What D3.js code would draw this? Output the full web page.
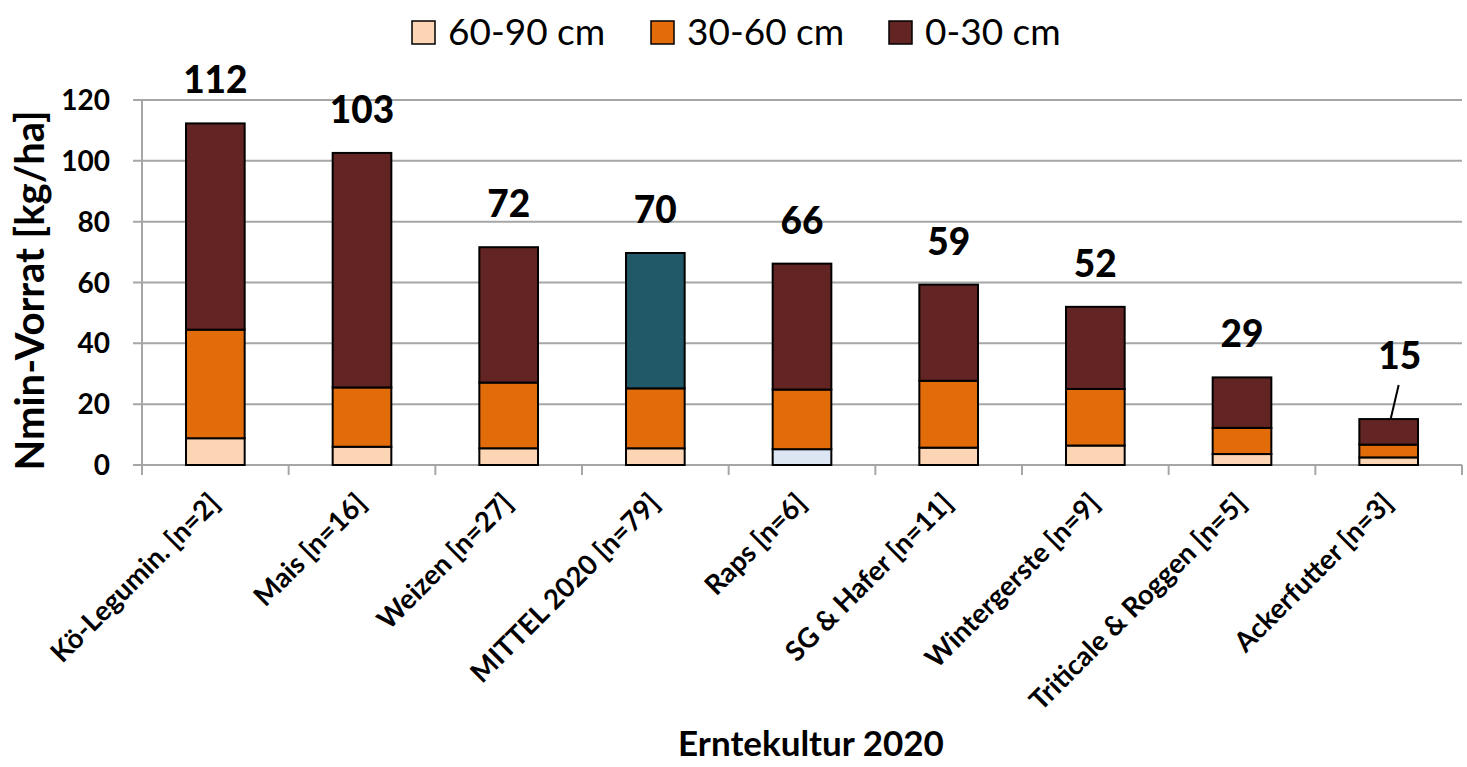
<!DOCTYPE html>
<html>
<head>
<meta charset="utf-8">
<script src="https://cdn.jsdelivr.net/npm/d3@7"></script>
<style>
  html, body { margin: 0; padding: 0; background: #fff; }
  svg { display: block; font-family: Lato, "Open Sans", sans-serif; }
</style>
</head>
<body>
<svg id="chart" width="1467" height="767"></svg>
<script>
// ---- data ----
const categories = ["Kö-Legumin. [n=2]", "Mais [n=16]", "Weizen [n=27]", "MITTEL 2020 [n=79]", "Raps [n=6]", "SG & Hafer [n=11]", "Wintergerste [n=9]", "Triticale & Roggen [n=5]", "Ackerfutter [n=3]"];
const seriesNames = ["60-90 cm", "30-60 cm", "0-30 cm"];
const depth6090 = [8.8, 6.0, 5.5, 5.5, 5.2, 5.7, 6.4, 3.6, 2.5];
const depth3060 = [35.7, 19.5, 21.6, 19.7, 19.6, 22.0, 18.6, 8.6, 4.2];
const depth030  = [67.8, 77.1, 44.5, 44.5, 41.4, 31.6, 27.0, 16.6, 8.4];
const totalLabels = ["112", "103", "72", "70", "66", "59", "52", "29", "15"];
const yTicks = [0, 20, 40, 60, 80, 100, 120];

// ---- styles ----
const colors = { "60-90 cm": "#FCD5B5", "30-60 cm": "#E36C0A", "0-30 cm": "#632523" };
const specialFill = { "MITTEL 2020 [n=79]|0-30 cm": "#215968", "Raps [n=6]|60-90 cm": "#DCE6F2" };

const rows = categories.map((c, i) => ({ cat: c, "60-90 cm": depth6090[i], "30-60 cm": depth3060[i], "0-30 cm": depth030[i], label: totalLabels[i] }));

const svg = d3.select("#chart");
const mLeft = 142, mRight = 1462, mTop = 100, mBottom = 465;

const x = d3.scaleBand().domain(categories).range([mLeft, mRight]).paddingInner(0.6).paddingOuter(0.3);
const y = d3.scaleLinear().domain([0, 120]).range([mBottom, mTop]);

// gridlines
svg.append("g").selectAll("line").data(yTicks).join("line")
  .attr("x1", mLeft - 9).attr("x2", mRight)
  .attr("y1", d => y(d)).attr("y2", d => y(d))
  .attr("stroke", "#A6A6A6").attr("stroke-width", 2);

// y axis line
svg.append("line").attr("x1", mLeft).attr("x2", mLeft).attr("y1", mTop).attr("y2", mBottom)
  .attr("stroke", "#A6A6A6").attr("stroke-width", 2);

// x tick marks at boundaries
const step = x.step();
const bounds = d3.range(categories.length + 1).map(i => mLeft + i * step);
svg.append("g").selectAll("line").data(bounds).join("line")
  .attr("x1", d => d).attr("x2", d => d).attr("y1", mBottom).attr("y2", mBottom + 10)
  .attr("stroke", "#A6A6A6").attr("stroke-width", 2);

// y tick labels
svg.append("g").selectAll("text").data(yTicks).join("text")
  .attr("x", 110).attr("y", d => y(d) + 10)
  .attr("text-anchor", "end").attr("font-weight", "bold").attr("font-size", 28)
  .text(d => d);

// stacked bars
const stack = d3.stack().keys(seriesNames)(rows);
const layers = svg.append("g").selectAll("g").data(stack).join("g");
layers.selectAll("rect").data(s => s.map(d => ({ key: s.key, d }))).join("rect")
  .attr("x", o => x(o.d.data.cat))
  .attr("width", x.bandwidth())
  .attr("y", o => y(o.d[1]))
  .attr("height", o => y(o.d[0]) - y(o.d[1]))
  .attr("fill", o => specialFill[o.d.data.cat + "|" + o.key] || colors[o.key])
  .attr("stroke", "#000").attr("stroke-width", 2);

// total labels
const totals = rows.map(r => r["60-90 cm"] + r["30-60 cm"] + r["0-30 cm"]);
const lastIdx = categories.length - 1;
svg.append("g").selectAll("text").data(rows).join("text")
  .attr("x", (r, i) => x(r.cat) + x.bandwidth() / 2 + (i === lastIdx ? 11 : 0))
  .attr("y", (r, i) => y(totals[i]) - (i === lastIdx ? 50 : 30))
  .attr("text-anchor", "middle").attr("font-weight", "900").attr("font-size", 37)
  .text(r => r.label);

// leader line for last label
{
  const cx = x(categories[lastIdx]) + x.bandwidth() / 2;
  const yt = y(totals[lastIdx]);
  svg.append("line").attr("x1", cx + 2).attr("y1", yt).attr("x2", cx + 10).attr("y2", yt - 34)
    .attr("stroke", "#000").attr("stroke-width", 2);
}

// x category labels
svg.append("g").selectAll("text").data(categories).join("text")
  .attr("transform", d => `translate(${x(d) + x.bandwidth() / 2 + 6},${mBottom + 40}) rotate(-45)`)
  .attr("text-anchor", "end").attr("font-weight", "bold").attr("font-size", 27.5)
  .text(d => d);

// axis titles
svg.append("text")
  .attr("transform", `translate(44,${(mTop + mBottom) / 2 + 8}) rotate(-90)`)
  .attr("text-anchor", "middle").attr("font-weight", "bold").attr("font-size", 40)
  .text("Nmin-Vorrat [kg/ha]");
svg.append("text")
  .attr("x", 811).attr("y", 756)
  .attr("text-anchor", "middle").attr("font-weight", "bold").attr("font-size", 35)
  .text("Erntekultur 2020");

// legend
const legendX = [412, 651, 889];
const lg = svg.append("g").selectAll("g").data(seriesNames).join("g")
  .attr("transform", (d, i) => `translate(${legendX[i]},21)`);
lg.append("rect").attr("width", 23).attr("height", 23)
  .attr("fill", d => colors[d]).attr("stroke", "#000").attr("stroke-width", 1.5);
lg.append("text").attr("x", 36).attr("y", 24).attr("font-size", 37).text(d => d);
</script>
</body>
</html>
